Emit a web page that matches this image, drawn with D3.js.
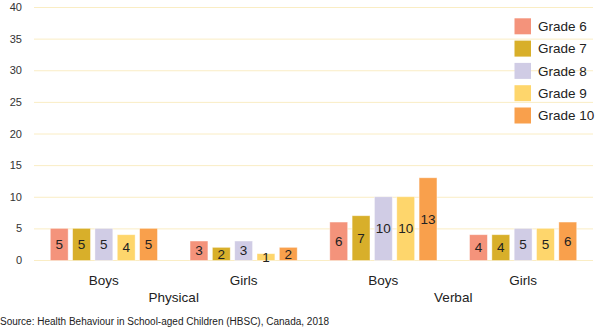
<!DOCTYPE html>
<html><head><meta charset="utf-8">
<script src="https://cdn.jsdelivr.net/npm/d3@7"></script>
<style>body{margin:0;background:#fff}svg{display:block;font-family:"Liberation Sans",Arial,sans-serif}</style>
</head><body><svg id="c" width="600" height="331"></svg>
<script>
const groups = ["Physical|Boys","Physical|Girls","Verbal|Boys","Verbal|Girls"];
const groupLabels = ["Boys","Girls","Boys","Girls"];
const superGroups = ["Physical","Verbal"];
const grades = ["Grade 6","Grade 7","Grade 8","Grade 9","Grade 10"];
const grade6 = [5,3,6,4];
const grade7 = [5,2,7,4];
const grade8 = [5,3,10,5];
const grade9 = [4,1,10,5];
const grade10 = [5,2,13,6];
const colors = ["#F4937B","#D8AF2A","#D0CCE5","#FED66C","#F9A04C"];
const yTicks = [0,5,10,15,20,25,30,35,40];
const source = "Source: Health Behaviour in School-aged Children (HBSC), Canada, 2018";

const series = [grade6,grade7,grade8,grade9,grade10];
const svg = d3.select("#c");
const L = 34, R = 593, T = 7, B = 260;
const y = d3.scaleLinear().domain([0,40]).range([B,T]);
const x0 = d3.scaleBand().domain(groups).range([L,R]).padding(0);
const x1 = d3.scaleBand().domain(grades).range([0,x0.bandwidth()]).paddingInner(0.2).paddingOuter(0.73);
const color = d3.scaleOrdinal().domain(grades).range(colors);

// grid
svg.append("g").selectAll("line").data(yTicks).join("line")
  .attr("x1",L).attr("x2",R).attr("y1",d=>y(d)+0.5).attr("y2",d=>y(d)+0.5)
  .attr("stroke","#FAEDC4").attr("stroke-width",1);
// y axis labels
const yAxis = d3.axisLeft(y).tickValues(yTicks).tickSize(0).tickPadding(0);
const ya = svg.append("g").attr("transform",`translate(22,0)`).call(yAxis);
ya.select(".domain").remove();
ya.selectAll("text").attr("font-size","11px").attr("fill","#333").attr("font-family","Liberation Sans, Arial, sans-serif");

// bars
const gg = svg.append("g").selectAll("g").data(groups).join("g")
  .attr("transform",d=>`translate(${x0(d)},0)`);
gg.each(function(g,gi){
  const sel = d3.select(this);
  grades.forEach((gr,si)=>{
    const v = series[si][gi];
    sel.append("rect").attr("x",x1(gr)).attr("width",x1.bandwidth())
      .attr("y",y(v)).attr("height",B-y(v)+0.5).attr("fill",color(gr))
      .attr("stroke","#ffffff").attr("stroke-opacity",0.5).attr("stroke-width",0.8);
    sel.append("text").attr("x",x1(gr)+x1.bandwidth()/2).attr("y",(y(v)+B)/2)
      .attr("dy","0.36em").attr("text-anchor","middle").attr("font-size","13.5px")
      .attr("fill","#222").text(v);
  });
});

// group labels
svg.append("g").selectAll("text").data(groups).join("text")
  .attr("x",d=>x0(d)+x0.bandwidth()/2).attr("y",285).attr("text-anchor","middle")
  .attr("font-size","13.5px").attr("fill","#222").text((d,i)=>groupLabels[i]);
svg.append("g").selectAll("text").data(superGroups).join("text")
  .attr("x",(d,i)=>x0(groups[i*2+1])).attr("y",301.5).attr("text-anchor","middle")
  .attr("font-size","13.5px").attr("fill","#222").text(d=>d);

// legend
const lg = svg.append("g").selectAll("g").data(grades).join("g")
  .attr("transform",(d,i)=>`translate(514.5,${18.3+i*22.3})`);
lg.append("rect").attr("width",16.5).attr("height",16).attr("fill",d=>color(d));
lg.append("text").attr("x",23.5).attr("y",8).attr("dy","0.36em").attr("font-size","13.5px")
  .attr("fill","#222").text(d=>d);

// source
svg.append("text").attr("x",0).attr("y",325).attr("font-size","10px").attr("fill","#222").text(source);
</script></body></html>
